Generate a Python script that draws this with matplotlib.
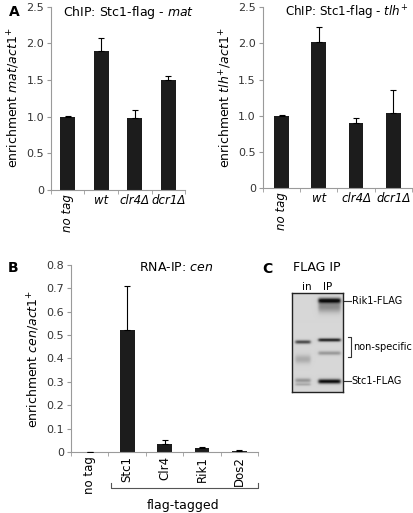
import numpy as np
import matplotlib
matplotlib.use("Agg")
import matplotlib.pyplot as plt
import matplotlib.transforms as mtransforms

plt.rcParams['font.family'] = ['DejaVu Sans']
plt.rcParams['mathtext.fontset'] = 'custom'
plt.rcParams['mathtext.rm'] = 'DejaVu Sans'
plt.rcParams['mathtext.it'] = 'DejaVu Sans:italic'

# panel A - ChIP data
chip_labels = ["no tag", "wt", "clr4Δ", "dcr1Δ"]
mat_vals = [1.0, 1.9, 0.98, 1.5]
mat_err = [0.005, 0.17, 0.11, 0.05]
tlh_vals = [1.0, 2.02, 0.9, 1.04]
tlh_err = [0.005, 0.2, 0.07, 0.31]

# panel B - RNA-IP data
rip_labels = ["no tag", "Stc1", "Clr4", "Rik1", "Dos2"]
rip_vals = [0.0, 0.52, 0.033, 0.015, 0.005]
rip_err = [0.0, 0.19, 0.019, 0.005, 0.003]

# panel C - gel bands: (lane, y position, thickness, darkness)
gel_lanes = {"in": (10.5, 7.5), "IP": (37.0, 11.0)}
gel_bands = [("IP", 8, 1.8, 0.9), ("IP", 14, 4.0, 0.35), ("IP", 47, 1.1, 0.9),
             ("IP", 60, 1.3, 0.3), ("IP", 88, 1.6, 0.95),
             ("in", 49, 1.2, 0.7), ("in", 66, 3.0, 0.2), ("in", 87, 1.5, 0.3),
             ("in", 91, 1.0, 0.2)]

bar_col = "#1c1c1c"
ax_col = "#9a9a9a"
txt_col = "#333333"

fig = plt.figure(figsize=(4.14, 5.13), dpi=100)


def style_axes(ax, ymax, step, fmt):
    for s in ["top", "right"]:
        ax.spines[s].set_visible(False)
    for s in ["left", "bottom"]:
        ax.spines[s].set_color(ax_col)
        ax.spines[s].set_linewidth(0.8)
    ax.set_ylim(0, ymax)
    ticks = np.arange(0, ymax + step / 2, step)
    ax.set_yticks(ticks)
    ax.set_yticklabels(["0"] + [fmt % t for t in ticks[1:]])
    ax.tick_params(axis="y", length=3, color=ax_col, labelsize=8, labelcolor=txt_col, pad=2)
    ax.tick_params(axis="x", which="minor", length=3, color=ax_col)
    ax.tick_params(axis="x", which="major", length=0, labelcolor="black", pad=3)


def bars(ax, vals, err, width):
    x = np.arange(len(vals))
    ax.bar(x, vals, width=width, color=bar_col, zorder=2)
    ax.errorbar(x, vals, yerr=[np.zeros(len(vals)), err], fmt="none", ecolor="black",
                elinewidth=0.8, capsize=2, capthick=0.8, zorder=3)
    ax.set_xlim(-0.5, len(vals) - 0.5)
    ax.set_xticks(np.arange(len(vals) + 1) - 0.5, minor=True)
    ax.set_xticks(x)


# A left
axA1 = fig.add_axes([0.123, 0.630, 0.324, 0.357])
bars(axA1, mat_vals, mat_err, 0.45)
style_axes(axA1, 2.5, 0.5, "%.1f")
axA1.set_xticklabels(chip_labels, style="italic", fontsize=8.5)
axA1.set_ylabel(r"enrichment $\mathit{mat/act1}^{+}$", fontsize=9, labelpad=3)
axA1.text(1.07, 0.966, r"ChIP: Stc1-flag - $\mathit{mat}$", fontsize=9, ha="right",
          va="center", transform=axA1.transAxes)

# A right
axA2 = fig.add_axes([0.635, 0.633, 0.36, 0.353])
bars(axA2, tlh_vals, tlh_err, 0.4)
style_axes(axA2, 2.5, 0.5, "%.1f")
axA2.set_xticklabels(chip_labels, style="italic", fontsize=8.5)
axA2.set_ylabel(r"enrichment $\mathit{tlh}^{+}\mathit{/act1}^{+}$", fontsize=9, labelpad=3)
axA2.text(0.975, 0.966, r"ChIP: Stc1-flag - $\mathit{tlh}^{+}$", fontsize=8.6, ha="right",
          va="center", transform=axA2.transAxes)

for ax in (axA1, axA2):
    lbl = ax.get_xticklabels()
    lbl[0].set_rotation(90)
    lbl[0].set_va("top")

# B
axB = fig.add_axes([0.1715, 0.119, 0.452, 0.3645])
bars(axB, rip_vals, rip_err, 0.4)
style_axes(axB, 0.8, 0.1, "%.1f")
axB.set_xticklabels(rip_labels, rotation=90, fontsize=8.5)
axB.set_ylabel(r"enrichment $\mathit{cen/act1}^{+}$", fontsize=9, labelpad=3)
axB.text(0.56, 0.985, r"RNA-IP: $\mathit{cen}$", fontsize=9, ha="center", va="center",
         transform=axB.transAxes)

tr = mtransforms.blended_transform_factory(axB.transData, axB.transAxes)
axB.plot([0.57, 0.57, 4.5, 4.5], [-0.166, -0.193, -0.193, -0.166], color="#555555",
         lw=0.8, transform=tr, clip_on=False)
axB.text(2.5, -0.285, "flag-tagged", transform=tr, ha="center", va="center", fontsize=9)

# C gel
axC = fig.add_axes([0.705, 0.236, 0.123, 0.193])
H, W = 99, 51
yy, xx = np.mgrid[0:H, 0:W]
img = np.full((H, W), 0.84)
for lane, yc, sig, dark in gel_bands:
    cx, hw = gel_lanes[lane]
    prof_x = 1.0 / (1.0 + np.exp((np.abs(xx - cx) - hw) / 0.8))
    prof_y = np.exp(-0.5 * ((yy - yc) / sig) ** 2)
    img = img - dark * 0.84 * prof_x * prof_y
img = np.clip(img, 0.05, 1)
axC.imshow(img, cmap="gray", vmin=0, vmax=1, extent=(0, W, H, 0), aspect="auto",
           interpolation="bilinear")
axC.set_xticks([])
axC.set_yticks([])
for s in axC.spines.values():
    s.set_color("#222222")
    s.set_linewidth(1.0)
axC.set_xlim(0, W)
axC.set_ylim(H, 0)

axC.text(25, -25, "FLAG IP", fontsize=9, ha="center", va="center", clip_on=False)
axC.text(15, -6, "in", fontsize=7.5, ha="center", va="center", clip_on=False)
axC.text(36, -6, "IP", fontsize=7.5, ha="center", va="center", clip_on=False)
axC.plot([51, 59], [8, 8], color="#333333", lw=0.8, clip_on=False)
axC.text(60, 8, "Rik1-FLAG", fontsize=7, ha="left", va="center", clip_on=False)
axC.plot([56, 59, 59, 56], [44, 44, 64, 64], color="#333333", lw=0.8, clip_on=False)
axC.text(61, 54, "non-specific", fontsize=7, ha="left", va="center", clip_on=False)
axC.plot([51, 59], [88, 88], color="#333333", lw=0.8, clip_on=False)
axC.text(60, 88, "Stc1-FLAG", fontsize=7, ha="left", va="center", clip_on=False)

# panel letters
fig.text(9 / 414, 1 - 12 / 513, "A", fontsize=10, fontweight="bold", va="center", ha="left")
fig.text(8 / 414, 1 - 268 / 513, "B", fontsize=10, fontweight="bold", va="center", ha="left")
fig.text(262 / 414, 1 - 269 / 513, "C", fontsize=10, fontweight="bold", va="center", ha="left")

fig.savefig("out.png", dpi=100)
